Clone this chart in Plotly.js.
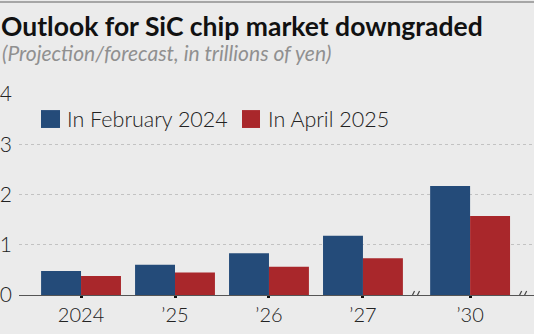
<!DOCTYPE html>
<html>
<head>
<meta charset="utf-8">
<script src="https://cdn.plot.ly/plotly-3.0.1.min.js"></script>
<style>html,body{margin:0;padding:0;background:#ebebeb;}#chart{width:534px;height:334px;}</style>
</head>
<body>
<div id="chart"></div>
<script>
// Data
var categories = ['2024', '\u201925', '\u201926', '\u201927', '\u201930'];
var xPositions = [0, 1, 2, 3, 4.14];
var seriesNames = ['In February 2024', 'In April 2025'];
var feb2024 = [0.48, 0.60, 0.83, 1.18, 2.17];
var apr2025 = [0.38, 0.45, 0.56, 0.73, 1.57];
var yTicks = [0, 1, 2, 3, 4];

var BLUE = '#244b79';
var RED = '#a9272b';
var BG = '#ebebeb';
var FONT = 'Lato, "Open Sans", sans-serif';

var traces = [
  {type: 'bar', name: seriesNames[0], x: xPositions, y: feb2024, marker: {color: BLUE, line: {width: 0}}, hoverinfo: 'y'},
  {type: 'bar', name: seriesNames[1], x: xPositions, y: apr2025, marker: {color: RED, line: {width: 0}}, hoverinfo: 'y'}
];

// axis-break markers between '27 and '30, and after '30
var gap = xPositions[4] - xPositions[3];
var breaks = [xPositions[3] + gap / 2, xPositions[4] + gap / 2];
var shapes = [];
breaks.forEach(function (bx) {
  shapes.push({type: 'rect', layer: 'above', xref: 'x', yref: 'y', xsizemode: 'pixel', ysizemode: 'pixel', xanchor: bx, yanchor: 0,
    x0: -3, x1: 2, y0: -1.5, y1: 1.5, fillcolor: BG, line: {width: 0}});
  shapes.push({type: 'line', layer: 'above', xref: 'x', yref: 'y', xsizemode: 'pixel', ysizemode: 'pixel', xanchor: bx, yanchor: 0,
    x0: -6, x1: -2, y0: -4, y1: 4, line: {color: '#444', width: 1.2}});
  shapes.push({type: 'line', layer: 'above', xref: 'x', yref: 'y', xsizemode: 'pixel', ysizemode: 'pixel', xanchor: bx, yanchor: 0,
    x0: -1, x1: 3, y0: -4, y1: 4, line: {color: '#444', width: 1.2}});
});

// top border line
shapes.push({type: 'line', xref: 'paper', yref: 'paper', x0: -0.05, x1: 1.05, y0: 1.4577, y1: 1.4577, line: {color: '#a6a6a6', width: 2}});

// custom legend squares
shapes.push({type: 'rect', xref: 'paper', yref: 'paper', x0: 0.0427, x1: 0.0796, y0: 0.831, y1: 0.920, fillcolor: BLUE, line: {width: 0}});
shapes.push({type: 'rect', xref: 'paper', yref: 'paper', x0: 0.433, x1: 0.468, y0: 0.831, y1: 0.920, fillcolor: RED, line: {width: 0}});

var annotations = [
  {xref: 'paper', yref: 'paper', x: 0.0893, y: 0.876, xanchor: 'left', yanchor: 'middle', showarrow: false,
    text: seriesNames[0], font: {family: FONT, size: 21.5, color: '#222', weight: 300}},
  {xref: 'paper', yref: 'paper', x: 0.4796, y: 0.876, xanchor: 'left', yanchor: 'middle', showarrow: false,
    text: seriesNames[1], font: {family: FONT, size: 21.5, color: '#222', weight: 300}},
  {xref: 'paper', yref: 'paper', x: -0.0369, y: 1.206, xanchor: 'left', yanchor: 'middle', showarrow: false,
    text: '(Projection/forecast, in trillions of yen)', font: {family: FONT, size: 21, color: '#909090', style: 'italic'}}
];

var layout = {
  width: 534, height: 334,
  margin: {l: 19, r: 0, t: 94, b: 39, pad: 0},
  paper_bgcolor: BG, plot_bgcolor: BG,
  showlegend: false,
  barmode: 'group', bargap: 0.15, bargroupgap: 0,
  title: {text: '<b>Outlook for SiC chip market downgraded</b>', x: 0.002, xanchor: 'left', xref: 'container',
    y: 0.921, yanchor: 'middle', yref: 'container', font: {family: FONT, size: 26.5, color: '#111'}},
  xaxis: {range: [-0.66, 4.82], tickmode: 'array', tickvals: xPositions, ticktext: categories,
    showgrid: false, zeroline: false, showline: true, linecolor: '#555', linewidth: 1,
    ticks: 'outside', ticklen: 2, tickwidth: 3, tickcolor: '#111',
    tickfont: {family: FONT, size: 20, color: '#222', weight: 300}, fixedrange: true},
  yaxis: {range: [0, 4], tickmode: 'array', tickvals: yTicks, ticktext: yTicks.map(String),
    showgrid: true, gridcolor: '#c2c2c2', griddash: 'dot', gridwidth: 1,
    zeroline: false, showline: false, ticks: '', ticklabelstandoff: 6,
    tickfont: {family: FONT, size: 21, color: '#222', weight: 300}, fixedrange: true},
  shapes: shapes,
  annotations: annotations
};

Plotly.newPlot('chart', traces, layout, {displayModeBar: false, staticPlot: true});
</script>
</body>
</html>
